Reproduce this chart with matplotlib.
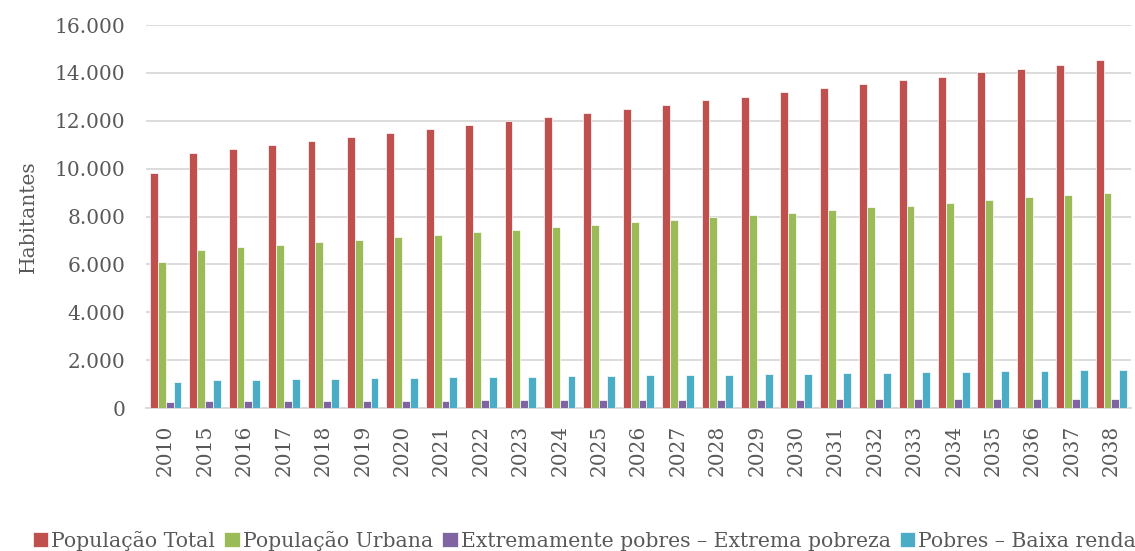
import matplotlib
matplotlib.use('Agg')
import matplotlib.pyplot as plt
import numpy as np
from matplotlib.ticker import FuncFormatter, MultipleLocator

# Dados
anos = ['2010'] + [str(a) for a in range(2015, 2039)]
pop_total = [9820, 10650, 10820, 11000, 11150, 11330, 11490, 11670, 11820,
             12000, 12160, 12330, 12500, 12670, 12850, 13000, 13190, 13350,
             13520, 13690, 13850, 14020, 14180, 14350, 14520]
pop_urbana = [6080, 6610, 6710, 6810, 6920, 7030, 7130, 7230, 7340, 7440,
              7550, 7640, 7760, 7850, 7970, 8050, 8160, 8270, 8380, 8460,
              8570, 8690, 8800, 8900, 8990]
extrema_pobreza = [265, 275, 285, 290, 295, 300, 305, 310, 318, 322, 328,
                   332, 336, 340, 345, 350, 355, 360, 365, 370, 375, 378,
                   382, 386, 390]
baixa_renda = [1070, 1150, 1180, 1200, 1220, 1240, 1260, 1280, 1290, 1310,
               1330, 1340, 1370, 1380, 1400, 1420, 1440, 1450, 1470, 1500,
               1510, 1530, 1540, 1570, 1580]

series = [
    ('População Total', pop_total, '#C0504D'),
    ('População Urbana', pop_urbana, '#9BBB59'),
    ('Extremamente pobres – Extrema pobreza', extrema_pobreza, '#8064A2'),
    ('Pobres – Baixa renda', baixa_renda, '#4BACC6'),
]

plt.rcParams['font.family'] = ['DejaVu Serif']
cinza = '#595959'

fig = plt.figure(figsize=(11.35, 5.51), dpi=100)
ax = fig.add_axes([0.1286, 0.2595, 0.868, 0.695])

x = np.arange(len(anos))
w = 0.2
for i, (nome, vals, cor) in enumerate(series):
    ax.bar(x + (i - 1.5) * w, vals, width=w, color=cor, label=nome,
           edgecolor='white', linewidth=0.5, zorder=3)

ax.set_xlim(-0.5, len(anos) - 0.5)
ax.set_ylim(0, 16000)
ax.yaxis.set_major_locator(MultipleLocator(2000))
ax.yaxis.set_major_formatter(FuncFormatter(lambda v, p: f'{int(v):,}'.replace(',', '.')))
ax.grid(axis='y', color='#D9D9D9', linewidth=1.3, zorder=0)
ax.set_xticks(x)
ax.set_xticklabels(anos, rotation=90)
ax.tick_params(axis='both', length=0, labelsize=14.5, colors=cinza)
ax.tick_params(axis='y', pad=15)
ax.tick_params(axis='x', pad=12)

for s in ['top', 'right', 'left']:
    ax.spines[s].set_visible(False)
ax.spines['bottom'].set_color('#D9D9D9')
ax.spines['bottom'].set_linewidth(1.3)

ax.set_ylabel('Habitantes', fontsize=14.5, color=cinza, labelpad=12)

fig.legend(loc='center', bbox_to_anchor=(0.515, 0.018), ncol=4, frameon=False,
           fontsize=14.7, handlelength=0.75, handleheight=0.75, handletextpad=0.15,
           columnspacing=0.45, labelcolor=cinza, borderaxespad=0)

fig.savefig('out.png', dpi=100, facecolor='white')
